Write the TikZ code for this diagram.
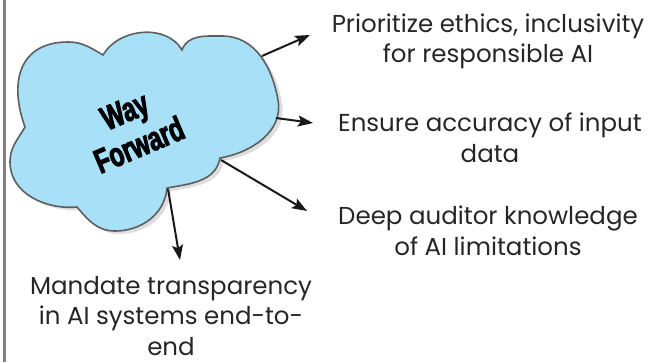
\documentclass[tikz,border=0pt]{standalone}
\usepackage{fontspec}
\setmainfont{Poppins}
\newfontfamily\wayfont[FakeStretch=0.7,FakeBold=2.5]{Liberation Sans Bold}
\usetikzlibrary{arrows.meta,shadows}
\definecolor{cloudblue}{HTML}{A8E0F8}
\definecolor{cloudedge}{HTML}{5E5E5E}
\tikzset{
  wfitem/.style={font=\fontsize{24.5}{30.5}\selectfont,align=center,inner sep=0pt,anchor=base,text=black!85},
  wfarrow/.style={line width=2pt,black!90,-{Stealth[length=15pt,width=11pt,inset=3pt]}},
  wfcloud/.style={draw=cloudedge,line width=1.6pt,fill=cloudblue,
    drop shadow={shadow xshift=4pt,shadow yshift=-3pt,fill=black!13,opacity=1}},
  waytext/.style={font=\wayfont\fontsize{34}{37}\selectfont,align=center,rotate=23,inner sep=0pt}
}
\begin{document}
\begin{tikzpicture}[x=1pt,y=1pt]
\useasboundingbox (0,0) rectangle (661,362);

\draw[black!50,line width=2.5pt] (4.5,0) -- (4.5,362);

\path[wfcloud] (25,235) to[out=110,in=180,looseness=1.3] (68,320) to[out=0,in=150] (103,307)
  to[out=60,in=120] (182,312) to[out=70,in=180] (222,326) to[out=0,in=100] (278,262)
  to[out=-80,in=10] (220,204) to[out=-100,in=10] (167,174) to[out=-95,in=0] (115,131)
  to[out=180,in=-50] (77,155) to[out=185,in=-90] (10,200) to[out=90,in=-120] (25,235) -- cycle;

\node[waytext] (way) at (132,234) {Way\\Forward};

\node[wfitem] (ethics) at (488,299) {Prioritize ethics, inclusivity\\for responsible AI};
\node[wfitem] (accuracy) at (490,200) {Ensure accuracy of input\\data};
\node[wfitem] (auditor) at (488,107) {Deep auditor knowledge\\of AI limitations};
\node[wfitem] (transparency) at (171,7) {Mandate transparency\\in AI systems end-to-\\end};

\coordinate (c1) at (262,306);
\coordinate (c2) at (276,244);
\coordinate (c3) at (221,202);
\coordinate (c4) at (168,173);
\coordinate (e1) at (310,327);
\coordinate (e2) at (313,239);
\coordinate (e3) at (307,151);
\coordinate (e4) at (180,102);

\draw[wfarrow] (c1) -- (e1);
\draw[wfarrow] (c2) -- (e2);
\draw[wfarrow] (c3) -- (e3);
\draw[wfarrow] (c4) -- (e4);
\end{tikzpicture}
\end{document}
